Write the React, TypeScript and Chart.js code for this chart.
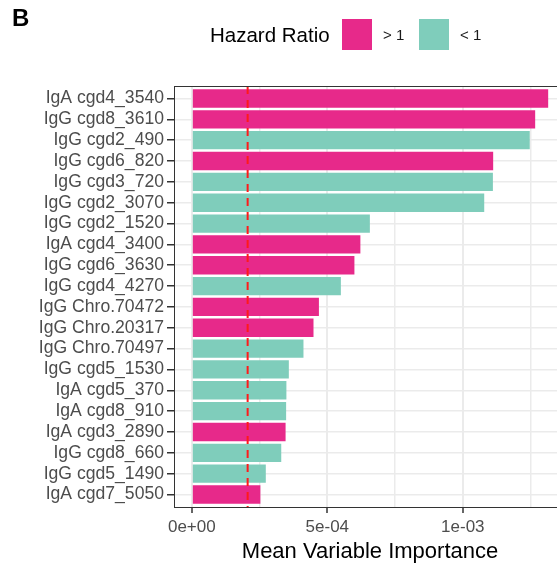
import React, { useEffect, useRef } from 'react';
import { Chart, registerables } from 'chart.js';

Chart.register(...registerables);

const ANTIGENS = [
  'IgA cgd4_3540', 'IgG cgd8_3610', 'IgG cgd2_490', 'IgG cgd6_820', 'IgG cgd3_720',
  'IgG cgd2_3070', 'IgG cgd2_1520', 'IgA cgd4_3400', 'IgG cgd6_3630', 'IgG cgd4_4270',
  'IgG Chro.70472', 'IgG Chro.20317', 'IgG Chro.70497', 'IgG cgd5_1530', 'IgA cgd5_370',
  'IgA cgd8_910', 'IgA cgd3_2890', 'IgG cgd8_660', 'IgG cgd5_1490', 'IgA cgd7_5050',
];

const IMPORTANCE = [
  13.15e-4, 12.67e-4, 12.47e-4, 11.12e-4, 11.11e-4,
  10.79e-4, 6.57e-4, 6.22e-4, 6.0e-4, 5.5e-4,
  4.69e-4, 4.49e-4, 4.12e-4, 3.58e-4, 3.49e-4,
  3.48e-4, 3.46e-4, 3.3e-4, 2.73e-4, 2.53e-4,
];

const HAZARD = [
  '> 1', '> 1', '< 1', '> 1', '< 1',
  '< 1', '< 1', '> 1', '> 1', '< 1',
  '> 1', '> 1', '< 1', '< 1', '< 1',
  '< 1', '> 1', '< 1', '< 1', '> 1',
];

const LEGEND_TITLE = 'Hazard Ratio';
const LEGEND_LABELS = ['> 1', '< 1'];
const LEGEND_COLORS = ['#E7298A', '#7FCDBB'];

const MAJOR_TICKS = [0, 5e-4, 1e-3];
const MAJOR_TICK_LABELS = ['0e+00', '5e-04', '1e-03'];
const MINOR_TICKS = [2.5e-4, 7.5e-4, 1.25e-3];

const THRESHOLD = 2.06e-4;
const X_TITLE = 'Mean Variable Importance';
const PANEL_TAG = 'B';

const FONT = "'Liberation Sans', Arial, Helvetica, sans-serif";

const colorFor = (h: string) => LEGEND_COLORS[LEGEND_LABELS.indexOf(h)];

const decorPlugin = {
  id: 'decor',
  afterDatasetsDraw(chart: any) {
    const { ctx, chartArea, scales } = chart;
    const x = scales.x.getPixelForValue(THRESHOLD);
    ctx.save();
    ctx.strokeStyle = '#FF1A1A';
    ctx.lineWidth = 2;
    ctx.setLineDash([8, 6]);
    ctx.beginPath();
    ctx.moveTo(x, chartArea.top);
    ctx.lineTo(x, chartArea.bottom);
    ctx.stroke();
    ctx.restore();
  },
  afterDraw(chart: any) {
    const { ctx, chartArea } = chart;
    ctx.save();
    ctx.strokeStyle = '#333333';
    ctx.lineWidth = 1;
    ctx.beginPath();
    ctx.moveTo(chartArea.left, chartArea.top + 0.5);
    ctx.lineTo(chartArea.right, chartArea.top + 0.5);
    ctx.stroke();

    ctx.fillStyle = '#000000';
    ctx.font = `bold 24px ${FONT}`;
    ctx.textAlign = 'left';
    ctx.textBaseline = 'alphabetic';
    ctx.fillText(PANEL_TAG, 12, 26);

    ctx.font = `20.5px ${FONT}`;
    ctx.fillStyle = '#000000';
    ctx.textBaseline = 'middle';
    ctx.fillText(LEGEND_TITLE, 210, 36);
    const boxX = [342, 419];
    LEGEND_LABELS.forEach((lab, i) => {
      ctx.fillStyle = LEGEND_COLORS[i];
      ctx.fillRect(boxX[i], 19, 30, 31);
      ctx.fillStyle = '#1A1A1A';
      ctx.font = `15px ${FONT}`;
      ctx.fillText(lab, boxX[i] + 41, 36);
    });
    ctx.restore();
  },
};

function BarChart() {
  const ref = useRef<HTMLCanvasElement>(null);
  useEffect(() => {
    const maxV = Math.max(...IMPORTANCE);
    const xMin = -0.05 * maxV;
    const xMax = 1.05 * maxV;
    const allX = [...MAJOR_TICKS, ...MINOR_TICKS].sort((a, b) => a - b);
    const isMajor = (v: number) => MAJOR_TICKS.indexOf(v) >= 0;
    const chart = new Chart(ref.current!, {
      type: 'bar',
      data: {
        datasets: [
          {
            data: IMPORTANCE.map((v, i) => ({ x: v, y: i })),
            backgroundColor: HAZARD.map(colorFor),
            borderWidth: 0,
            barPercentage: 0.88,
            categoryPercentage: 1,
          } as any,
        ],
      },
      options: {
        indexAxis: 'y',
        responsive: false,
        animation: false,
        layout: { padding: { top: 86, left: 0, right: 0, bottom: 0 } },
        plugins: { legend: { display: false }, tooltip: { enabled: false } },
        scales: {
          x: {
            type: 'linear',
            min: xMin,
            max: xMax,
            afterBuildTicks: (s: any) => {
              s.ticks = allX.map((v) => ({ value: v }));
            },
            afterFit: (s: any) => {
              s.height = 58;
            },
            ticks: {
              autoSkip: false,
              maxRotation: 0,
              padding: 4,
              color: '#4D4D4D',
              font: { family: FONT, size: 17 },
              callback: (v: any) => {
                const i = MAJOR_TICKS.indexOf(v);
                return i >= 0 ? MAJOR_TICK_LABELS[i] : '';
              },
            },
            grid: {
              offset: false,
              color: '#EBEBEB',
              lineWidth: (c: any) => (isMajor(c.tick?.value) ? 2 : 1.5),
              tickColor: (c: any) => (isMajor(c.tick?.value) ? '#333333' : 'rgba(0,0,0,0)'),
              tickLength: 6,
              tickWidth: 1.5,
            },
            border: { display: true, color: '#333333', width: 1 },
            title: {
              display: true,
              text: X_TITLE,
              color: '#000000',
              font: { family: FONT, size: 22 },
              padding: { top: 1, bottom: 0 },
            },
          },
          y: {
            type: 'linear',
            min: -0.6,
            max: ANTIGENS.length - 0.4,
            reverse: true,
            offset: false,
            afterBuildTicks: (s: any) => {
              s.ticks = ANTIGENS.map((_, i) => ({ value: i }));
            },
            afterFit: (s: any) => {
              s.width = 174;
            },
            ticks: {
              autoSkip: false,
              padding: 3,
              color: '#4D4D4D',
              font: { family: FONT, size: 17.6 },
              callback: (v: any) => ANTIGENS[v] ?? '',
            },
            grid: {
              offset: false,
              color: '#EBEBEB',
              lineWidth: 1.5,
              tickColor: '#333333',
              tickLength: 7,
              tickWidth: 1.5,
            },
            border: { display: true, color: '#333333', width: 1 },
          },
        },
      } as any,
      plugins: [decorPlugin],
    });
    return () => chart.destroy();
  }, []);
  return <canvas ref={ref} width={566} height={565} style={{ display: 'block', width: 566, height: 565 }} />;
}

export default function App() {
  return (
    <div
      style={{
        position: 'fixed',
        left: 0,
        top: 0,
        width: 557,
        height: 565,
        overflow: 'hidden',
        background: '#FFFFFF',
      }}
    >
      <BarChart />
    </div>
  );
}
